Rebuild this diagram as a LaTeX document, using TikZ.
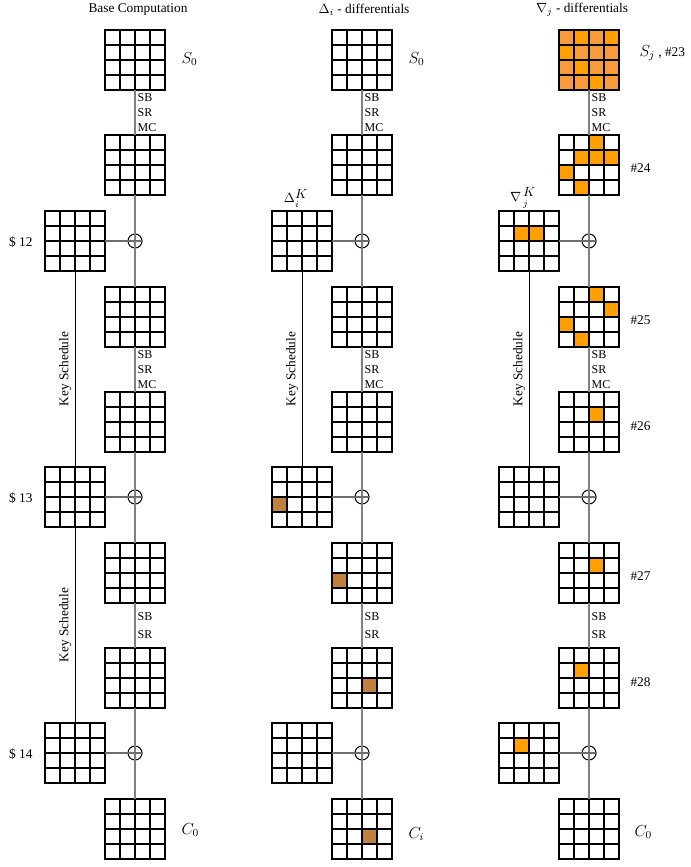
\documentclass[tikz,border=0pt]{standalone}
\usepackage{fontspec}
\setmainfont{Liberation Serif}
\usetikzlibrary{calc}

\definecolor{lightorange}{RGB}{248,155,60}
\definecolor{darkorange}{RGB}{255,160,0}
\definecolor{keybrown}{RGB}{192,128,64}

\tikzset{every picture/.style={line width=0.75pt}}
\tikzset{
state/.style={rectangle, minimum size=45pt, inner sep=0pt, outer sep=0pt},
gridline/.style={line width=0.8pt},
xorgate/.style={draw, circle, minimum size=10.5pt, inner sep=0pt, line width=0.75pt},
datapath/.style={draw={rgb, 255:red, 128; green, 128; blue, 128 }, line width=1pt},
keypath/.style={draw={rgb, 255:red, 110; green, 110; blue, 110 }, line width=0.8pt},
keyline/.style={line width=0.7pt},
ops/.style={midway, anchor=west, align=left, font=\small, text=black, inner sep=1.5pt},
keylabel/.style={midway, rotate=90, anchor=south, inner sep=2.5pt},
mathlabel/.style={anchor=west, inner sep=0.75pt, font=\large},
tag/.style={anchor=west, inner sep=0.75pt},
header/.style={inner sep=0.75pt}
}

% 4x4 state: inner lines and frame over the node
\newcommand{\stategrid}[1]{%
  \foreach \k in {1,2,3}{
    \draw[gridline] ($(#1.north west)!\k/4!(#1.north east)$) -- ($(#1.south west)!\k/4!(#1.south east)$);
    \draw[gridline] ($(#1.north west)!\k/4!(#1.south west)$) -- ($(#1.north east)!\k/4!(#1.south east)$);
  }
  \draw[gridline] (#1.north west) rectangle (#1.south east);}
% one byte of a state: node, column, row, colour
\newcommand{\cellfill}[4]{\fill[#4] ($(#1.north west)+({(#2-1)*15},{(#3-1)*15})$) rectangle +(15,15);}

\begin{document}
\begin{tikzpicture}[x=0.75pt,y=0.75pt,yscale=-1,xscale=1]
\useasboundingbox (0,0) rectangle (691,867);

%%%%%%%% Base Computation
%Shape: Grid
\node[state] (a0) at (135,60) {};
\node[state] (a1) at (135,165) {};
\node[state] (ak1) at (75,241) {};
\node[xorgate] (ax1) at (135,241) {};
\node[state] (a2) at (135,317) {};
\node[state] (a3) at (135,422) {};
\node[state] (ak2) at (75,497) {};
\node[xorgate] (ax2) at (135,497) {};
\node[state] (a4) at (135,573) {};
\node[state] (a5) at (135,678) {};
\node[state] (ak3) at (75,753) {};
\node[xorgate] (ax3) at (135,753) {};
\node[state] (a6) at (135,829) {};
\stategrid{a0} \stategrid{a1} \stategrid{ak1} \stategrid{a2} \stategrid{a3} \stategrid{ak2}
\stategrid{a4} \stategrid{a5} \stategrid{ak3} \stategrid{a6}

%Straight Lines
\draw[datapath] (a0) -- node[ops]{SB\\SR\\MC} (a1);
\draw[datapath] (a1) -- (a2);
\draw[datapath] (a2) -- node[ops]{SB\\SR\\MC} (a3);
\draw[datapath] (a3) -- (a4);
\draw[datapath] (a4) -- node[ops]{SB\\[2pt]SR} (a5);
\draw[datapath] (a5) -- (a6);
\draw[keypath] (ak1) -- (ax1.east);
\draw[keypath] (ak2) -- (ax2.east);
\draw[keypath] (ak3) -- (ax3.east);
\draw[keyline] (ak1) -- node[keylabel]{Key Schedule} (ak2);
\draw[keyline] (ak2) -- node[keylabel]{Key Schedule} (ak3);

% Text Node
\node[header] (ahead) at (138,10) {Base Computation};
\node[mathlabel] (alab0) at (180,59) {$S_0$};
\node[mathlabel] (alab6) at (180,830) {$C_0$};
\node[tag, anchor=east] (around1) at (34,242) {\$ 12};
\node[tag, anchor=east] (around2) at (34,498) {\$ 13};
\node[tag, anchor=east] (around3) at (34,754) {\$ 14};

%%%%%%%% Delta_i - differentials
%Shape: Grid
\node[state] (b0) at (362,60) {};
\node[state] (b1) at (362,165) {};
\node[state] (bk1) at (302,241) {};
\node[xorgate] (bx1) at (362,241) {};
\node[state] (b2) at (362,317) {};
\node[state] (b3) at (362,422) {};
\node[state] (bk2) at (302,497) {};
\node[xorgate] (bx2) at (362,497) {};
\node[state] (b4) at (362,573) {};
\node[state] (b5) at (362,678) {};
\node[state] (bk3) at (302,753) {};
\node[xorgate] (bx3) at (362,753) {};
\node[state] (b6) at (362,829) {};
\cellfill{bk2}{1}{3}{keybrown}
\cellfill{b4}{1}{3}{keybrown}
\cellfill{b5}{3}{3}{keybrown}
\cellfill{b6}{3}{3}{keybrown}
\stategrid{b0} \stategrid{b1} \stategrid{bk1} \stategrid{b2} \stategrid{b3} \stategrid{bk2}
\stategrid{b4} \stategrid{b5} \stategrid{bk3} \stategrid{b6}

%Straight Lines
\draw[datapath] (b0) -- node[ops]{SB\\SR\\MC} (b1);
\draw[datapath] (b1) -- (b2);
\draw[datapath] (b2) -- node[ops]{SB\\SR\\MC} (b3);
\draw[datapath] (b3) -- (b4);
\draw[datapath] (b4) -- node[ops]{SB\\[2pt]SR} (b5);
\draw[datapath] (b5) -- (b6);
\draw[keypath] (bk1) -- (bx1.east);
\draw[keypath] (bk2) -- (bx2.east);
\draw[keypath] (bk3) -- (bx3.east);
\draw[keyline] (bk1) -- node[keylabel]{Key Schedule} (bk2);

% Text Node
\node[header] (bhead) at (364,10) {$\Delta_i$ - differentials};
\node[mathlabel] (blab0) at (407,59) {$S_0$};
\node[mathlabel] (blab6) at (407,834) {$C_i$};
\node[mathlabel, anchor=south, font=\normalsize] (bkey) at (296,209) {$\Delta^{\textstyle K}_{\lower1pt\hbox{$\scriptstyle i$}}$};

%%%%%%%% Nabla_j - differentials
%Shape: Grid
\node[state] (c0) at (589,60) {};
\node[state] (c1) at (589,165) {};
\node[state] (ck1) at (529,241) {};
\node[xorgate] (cx1) at (589,241) {};
\node[state] (c2) at (589,317) {};
\node[state] (c3) at (589,422) {};
\node[state] (ck2) at (529,497) {};
\node[xorgate] (cx2) at (589,497) {};
\node[state] (c4) at (589,573) {};
\node[state] (c5) at (589,678) {};
\node[state] (ck3) at (529,753) {};
\node[xorgate] (cx3) at (589,753) {};
\node[state] (c6) at (589,829) {};
\fill[lightorange] (c0.north west) rectangle (c0.south east);
\cellfill{c0}{2}{1}{darkorange} \cellfill{c0}{4}{1}{darkorange}
\cellfill{c0}{1}{2}{darkorange} \cellfill{c0}{2}{3}{darkorange}
\cellfill{c0}{3}{4}{darkorange}
\cellfill{c1}{3}{1}{darkorange} \cellfill{c1}{2}{2}{darkorange}
\cellfill{c1}{3}{2}{darkorange} \cellfill{c1}{4}{2}{darkorange}
\cellfill{c1}{1}{3}{darkorange} \cellfill{c1}{2}{4}{darkorange}
\cellfill{ck1}{2}{2}{darkorange} \cellfill{ck1}{3}{2}{darkorange}
\cellfill{c2}{3}{1}{darkorange} \cellfill{c2}{4}{2}{darkorange}
\cellfill{c2}{1}{3}{darkorange} \cellfill{c2}{2}{4}{darkorange}
\cellfill{c3}{3}{2}{darkorange}
\cellfill{c4}{3}{2}{darkorange}
\cellfill{c5}{2}{2}{darkorange}
\cellfill{ck3}{2}{2}{darkorange}
\stategrid{c0} \stategrid{c1} \stategrid{ck1} \stategrid{c2} \stategrid{c3} \stategrid{ck2}
\stategrid{c4} \stategrid{c5} \stategrid{ck3} \stategrid{c6}

%Straight Lines
\draw[datapath] (c0) -- node[ops]{SB\\SR\\MC} (c1);
\draw[datapath] (c1) -- (c2);
\draw[datapath] (c2) -- node[ops]{SB\\SR\\MC} (c3);
\draw[datapath] (c3) -- (c4);
\draw[datapath] (c4) -- node[ops]{SB\\[2pt]SR} (c5);
\draw[datapath] (c5) -- (c6);
\draw[keypath] (ck1) -- (cx1.east);
\draw[keypath] (ck2) -- (cx2.east);
\draw[keypath] (ck3) -- (cx3.east);
\draw[keyline] (ck1) -- node[keylabel]{Key Schedule} (ck2);

% Text Node
\node[header] (chead) at (582,10) {$\nabla_j$ - differentials};
\node[mathlabel] (clab0) at (638,53) {$S_j$\normalsize\ , \#23};
\node[tag] (cr24) at (629,168) {\#24};
\node[tag] (cr25) at (629,320) {\#25};
\node[tag] (cr26) at (629,426) {\#26};
\node[tag] (cr27) at (629,576) {\#27};
\node[tag] (cr28) at (629,682) {\#28};
\node[mathlabel] (clab6) at (633,832) {$C_0$};
\node[mathlabel, anchor=south, font=\normalsize] (ckey) at (523,210) {$\nabla^{\,\textstyle K}_{\,\lower1.5pt\hbox{$\scriptstyle j$}}$};

\end{tikzpicture}
\end{document}
